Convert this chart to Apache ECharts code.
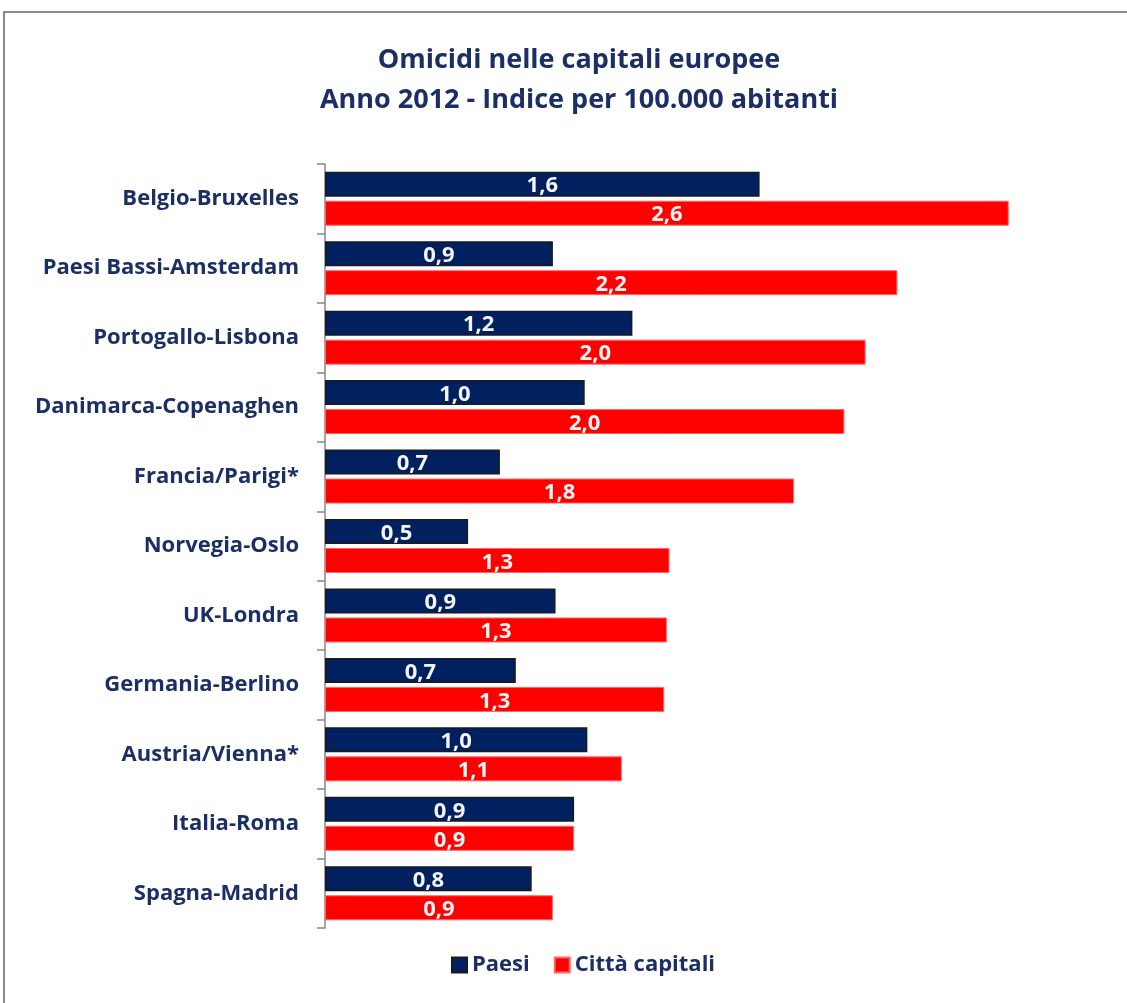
<!DOCTYPE html>
<html>
<head>
<meta charset="utf-8">
<script src="https://cdn.jsdelivr.net/npm/echarts@6/dist/echarts.min.js"></script>
<style>
html,body{margin:0;padding:0;background:#fff;}
#chart{width:1127px;height:1003px;}
</style>
</head>
<body>
<div id="chart"></div>
<script>
const categories = ['Belgio-Bruxelles','Paesi Bassi-Amsterdam','Portogallo-Lisbona','Danimarca-Copenaghen','Francia/Parigi*','Norvegia-Oslo','UK-Londra','Germania-Berlino','Austria/Vienna*','Italia-Roma','Spagna-Madrid'];
const paesi = [1.64, 0.86, 1.16, 0.98, 0.66, 0.54, 0.87, 0.72, 0.99, 0.94, 0.78];
const citta = [2.58, 2.16, 2.04, 1.96, 1.77, 1.30, 1.29, 1.28, 1.12, 0.94, 0.86];
const seriesNames = ['Paesi', 'Città capitali'];
const titleText = 'Omicidi nelle capitali europee\nAnno 2012 - Indice per 100.000 abitanti';

const navy = '#002060';
const textNavy = '#1b2f66';
const FONT = '"Open Sans"';

function fmt(p) {
  return (Math.round(p.value * 10) / 10).toFixed(1).replace('.', ',');
}
const labelStyle = {
  show: true, position: 'inside', color: '#f4f4f4', fontFamily: FONT,
  fontWeight: 'bold', fontSize: 22, formatter: fmt, offset: [0, 2]
};

const chart = echarts.init(document.getElementById('chart'), null, {renderer: 'canvas'});
chart.setOption({
  backgroundColor: '#fff',
  animation: false,
  graphic: [{
    type: 'polyline', silent: true,
    shape: {points: [[4, 1100], [4, 12], [1200, 12]]},
    style: {fill: 'none', stroke: '#8a8a8a', lineWidth: 2}
  }],
  title: {
    text: titleText, left: 574, textAlign: 'center', top: 35,
    textStyle: {fontFamily: FONT, fontWeight: 'bold', fontSize: 27, color: textNavy, lineHeight: 40}
  },
  legend: {
    bottom: 22, left: 446, icon: 'rect', itemWidth: 15, itemHeight: 15, itemGap: 24,
    textStyle: {fontFamily: FONT, fontWeight: 'bold', fontSize: 22, color: textNavy},
    data: seriesNames
  },
  grid: {left: 325, top: 164, width: 795, height: 764, containLabel: false},
  xAxis: {type: 'value', min: 0, max: 3, show: false},
  yAxis: {
    type: 'category', data: categories, inverse: true,
    axisLine: {lineStyle: {color: '#868686', width: 1.5}},
    axisTick: {show: true, length: 8, lineStyle: {color: '#868686', width: 1.5}},
    axisLabel: {fontFamily: FONT, fontWeight: 'bold', fontSize: 22, color: textNavy, margin: 26}
  },
  series: [
    {name: seriesNames[0], type: 'bar', data: paesi, barWidth: 25, barGap: '16%',
     itemStyle: {color: navy, borderColor: '#1a1a1a', borderWidth: 1.5}, label: labelStyle},
    {name: seriesNames[1], type: 'bar', data: citta, barWidth: 25, barGap: '16%',
     itemStyle: {color: '#ff0000', borderColor: '#ff6666', borderWidth: 1}, label: labelStyle}
  ]
});
</script>
</body>
</html>
